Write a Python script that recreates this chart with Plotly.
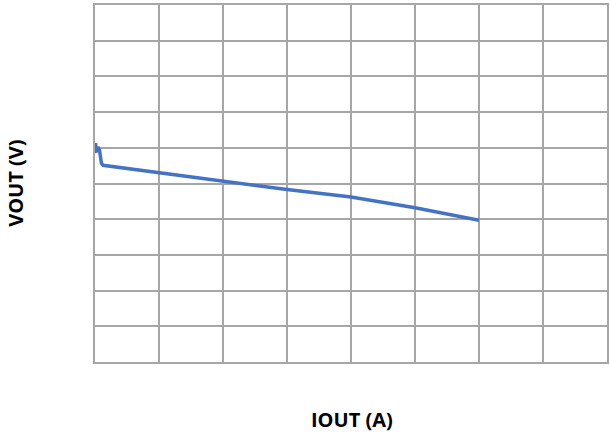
import plotly.graph_objects as go

# Data (x in grid units of IOUT, y in grid units of VOUT)
iout = [0.0, 0.008, 0.023, 0.047, 0.07, 0.10, 0.125, 0.51, 0.855, 2.0, 3.0, 4.0, 4.75, 5.0, 6.0]
vout = [5.85, 6.13, 5.88, 6.02, 5.94, 5.57, 5.51, 5.42, 5.34, 5.06, 4.83, 4.62, 4.41, 4.32, 3.97]

x_ticks = list(range(0, 9))
y_ticks = list(range(0, 11))

fig = go.Figure()
fig.add_trace(go.Scatter(
    x=iout, y=vout, mode="lines",
    line=dict(color="#4472C4", width=3.5),
    showlegend=False, hoverinfo="skip",
))

grid = "#a6a6a6"
fig.update_xaxes(
    range=[0, 8], tickvals=x_ticks, showticklabels=False,
    showgrid=True, gridcolor=grid, gridwidth=1.5,
    zeroline=False, showline=True, linecolor=grid, linewidth=1.5, mirror=True,
    ticks="",
)
fig.update_yaxes(
    range=[0, 10], tickvals=y_ticks, showticklabels=False,
    showgrid=True, gridcolor=grid, gridwidth=1.5,
    zeroline=False, showline=True, linecolor=grid, linewidth=1.5, mirror=True,
    ticks="",
)

font = dict(family="Open Sans, sans-serif", size=20, color="#000000")
fig.add_annotation(text="<b>IOUT (A)</b>", xref="paper", yref="paper",
                   x=0.502, y=-0.162, xanchor="center", yanchor="middle",
                   showarrow=False, font=font)
fig.add_annotation(text="<b>VOUT (V)</b>", xref="paper", yref="paper",
                   x=-0.1556, y=0.5, xanchor="center", yanchor="middle",
                   textangle=-90, showarrow=False, font=font)

fig.update_layout(
    width=610, height=432,
    margin=dict(l=95, r=1, t=5, b=70),
    paper_bgcolor="white", plot_bgcolor="white",
)

fig.write_html(
    "out.html",
    config={"displayModeBar": False},
    post_script="document.body.style.margin='0';document.body.style.overflow='hidden';",
)
